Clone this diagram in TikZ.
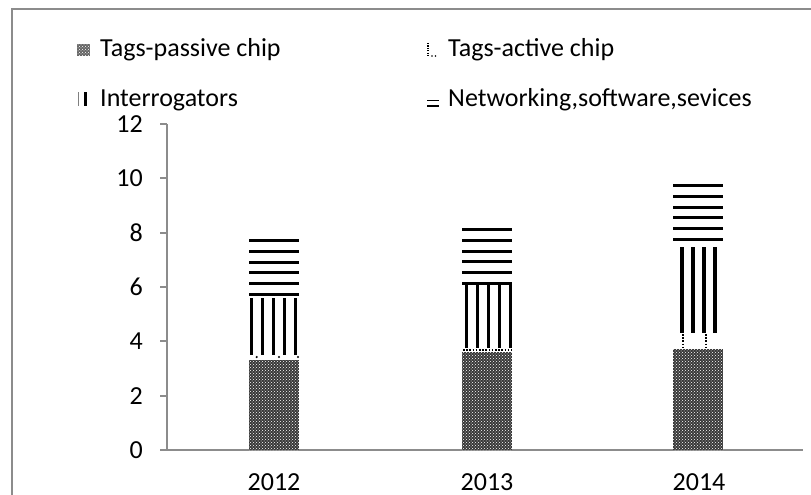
\documentclass[tikz,border=0pt]{standalone}
\usepackage{fontspec}
\setmainfont{Carlito}
\usetikzlibrary{patterns}
\begin{document}
\begin{tikzpicture}[x=1pt,y=-1pt,
  frameline/.style={draw=black!45,line width=2pt},
  axisline/.style={draw=black!45,line width=1.8pt},
  lbl/.style={font=\fontsize{26}{31}\selectfont,inner sep=0pt},
  hline/.style={draw=black,line width=3pt},
  vline/.style={draw=black,line width=3.2pt},
  dotline/.style={draw=black,line width=1.6pt,dash pattern=on 1.6pt off 1.6pt}]
\useasboundingbox (0,0) rectangle (811,495);
% frame
\draw[frameline] (12,495) -- (12,9.5) -- (811,9.5);
% axes
\draw[axisline] (167,124) -- (167,450) -- (803,450);
\foreach \v in {0,2,...,12} {
  \draw[axisline] (160,{450-27.17*\v}) -- (167,{450-27.17*\v});
  \node[lbl,anchor=east] (tick\v) at (143,{450-27.17*\v}) {\v};
}
% category labels
\node[lbl,anchor=base] (c2012) at (274,490) {2012};
\node[lbl,anchor=base] (c2013) at (487,490) {2013};
\node[lbl,anchor=base] (c2014) at (699,490) {2014};
% bars: x, passive top, active top, interrogator top, networking top, line offset
\foreach \bx/\pt/\at/\it/\nt/\off in {249/360/355/298/238/2.7, 462/352/348/285/227/4.7, 673/349/333/247/183/9} {
  % passive
  \fill[black!78] (\bx,\pt) rectangle ({\bx+50},450);
  \fill[pattern=crosshatch dots,pattern color=white] (\bx,\pt) rectangle ({\bx+50},450);
  % interrogators
  \foreach \k in {0,...,4} {
    \pgfmathsetmacro{\lx}{\bx+\off+11*\k}
    \ifdim\lx pt<\numexpr\bx+50\relax pt
      \draw[vline] (\lx,\it) -- (\lx,\at);
    \fi
  }
  % networking
  \foreach \k in {0,...,5} {
    \draw[hline] (\bx,{\nt+2.7+10.67*\k}) -- ({\bx+50},{\nt+2.7+10.67*\k});
  }
}
% active chip segments
\fill[black] (256.7,357) circle (1.2) (279,357) circle (1.2) (298,357) circle (1.2);
\draw[dotline] (463,350) -- (512,350);
\draw[dotline] (683,334) -- (683,349);
\draw[dotline] (706,334) -- (706,349);
% legend
\fill[black!60] (77,44) rectangle (90,56);
\fill[pattern=crosshatch dots,pattern color=white] (77,44) rectangle (90,56);
\node[lbl,anchor=base west] (lp) at (100,57) {Tags-passive chip};
\draw[draw=black,line width=1.2pt,dash pattern=on 1.2pt off 1.2pt] (428,43) -- (428,57);
\fill[black] (432,56) circle (0.9) (435.5,56) circle (0.9);
\node[lbl,anchor=base west] (la) at (448,57) {Tags-active chip};
\draw[draw=black!50,line width=1.5pt] (78.5,92) -- (78.5,106);
\draw[draw=black,line width=3pt] (85,92) -- (85,106);
\node[lbl,anchor=base west] (li) at (100,106) {Interrogators};
\draw[draw=black,line width=1.3pt] (427,100.5) -- (439,100.5);
\draw[draw=black,line width=2.2pt] (427,106) -- (439,106);
\node[lbl,anchor=base west] (ln) at (448,106) {Networking,software,sevices};
\end{tikzpicture}
\end{document}
